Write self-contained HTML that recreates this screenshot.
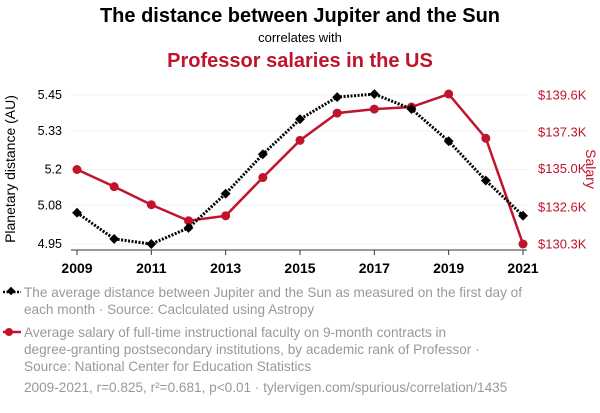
<!DOCTYPE html>
<html><head><meta charset="utf-8"><style>
body{margin:0;background:#fff;width:600px;height:408px;overflow:hidden;font-family:"Liberation Sans",sans-serif}
</style></head><body>
<svg width="600" height="408" font-family="Liberation Sans, sans-serif">
<text x="300" y="22" text-anchor="middle" font-size="20" font-weight="bold" fill="#000">The distance between Jupiter and the Sun</text>
<text x="300" y="42" text-anchor="middle" font-size="13" fill="#000">correlates with</text>
<text x="300" y="67" text-anchor="middle" font-size="20" font-weight="bold" fill="#c0142c">Professor salaries in the US</text>
<g id="grid"></g><g id="axes"></g><g id="series"></g>
<text transform="translate(15,169) rotate(-90)" text-anchor="middle" font-size="14" fill="#000">Planetary distance (AU)</text>
<text transform="translate(586,169) rotate(90)" text-anchor="middle" font-size="14" fill="#c0142c">Salary</text>
<g>
<line x1="3" y1="292" x2="21" y2="292" stroke="#000" stroke-width="2.5" stroke-dasharray="2,1.5"/>
<rect x="8" y="288" width="6" height="6" transform="rotate(45 11 291)" fill="#000"/>
<text x="24" y="297" font-size="13.6" fill="#999">The average distance between Jupiter and the Sun as measured on the first day of</text>
<text x="24" y="314" font-size="13.6" fill="#999">each month · Source: Caclculated using Astropy</text></g>
<g>
<line x1="3" y1="332" x2="21" y2="332" stroke="#c0142c" stroke-width="2.5"/>
<circle cx="9" cy="332" r="4" fill="#c0142c"/>
<text x="24" y="337" font-size="13.6" fill="#999">Average salary of full-time instructional faculty on 9-month contracts in</text>
<text x="24" y="354" font-size="13.6" fill="#999">degree-granting postsecondary institutions, by academic rank of Professor ·</text>
<text x="24" y="371" font-size="13.6" fill="#999">Source: National Center for Education Statistics</text></g>
<text x="24" y="392" font-size="13.6" fill="#999">2009-2021, r=0.825, r²=0.681, p&lt;0.01 · tylervigen.com/spurious/correlation/1435</text>
</svg>
<script>
const years=[2009,2010,2011,2012,2013,2014,2015,2016,2017,2018,2019,2020,2021];
const distance=[5.055,4.967,4.95,5.004,5.119,5.251,5.369,5.443,5.453,5.403,5.295,5.163,5.045];
const salary=[134.95,133.88,132.75,131.75,132.06,134.45,136.77,138.47,138.72,138.85,139.66,136.9,130.3];
const leftTicks=[4.95,5.08,5.2,5.33,5.45];
const leftLabels=["4.95","5.08","5.2","5.33","5.45"];
const rightTicks=[130.3,132.6,135.0,137.3,139.6];
const rightLabels=["$130.3K","$132.6K","$135.0K","$137.3K","$139.6K"];
const xTicks=[2009,2011,2013,2015,2017,2019,2021];
const NS="http://www.w3.org/2000/svg";
const X=v=>77+(v-2009)*(523-77)/12;
const YL=v=>244-(v-4.95)*(244-95)/0.5;
const YR=v=>244-(v-130.3)*(244-95)/9.3;
function mk(t,a,p){const e=document.createElementNS(NS,t);for(const k in a)e.setAttribute(k,a[k]);p.appendChild(e);return e;}
const grid=document.getElementById('grid'),axes=document.getElementById('axes'),ser=document.getElementById('series');
leftTicks.forEach((v,i)=>{
 const g=mk('line',{x1:70,x2:528,y1:YL(v),y2:YL(v),stroke:'#f0f0f0'},grid);
 
 
 const t=mk('text',{x:62,y:YL(v)+4,'text-anchor':'end','font-size':12.5,fill:'#000'},axes);t.textContent=leftLabels[i];
 
 
});
rightTicks.forEach((v,i)=>{
 const t=mk('text',{x:538,y:YR(v)+4.5,'font-size':13,fill:'#c0142c'},axes);t.textContent=rightLabels[i];
 
 
});
const ax=mk('line',{x1:71,x2:527,y1:250,y2:250,stroke:'#333'},axes);


xTicks.forEach(v=>{
 mk('line',{x1:X(v),x2:X(v),y1:250,y2:255,stroke:'#333'},axes);
 const t=mk('text',{x:X(v),y:273,'text-anchor':'middle','font-size':14,'font-weight':'bold',fill:'#000'},axes);t.textContent=v;
 
 
});
const rp=mk('polyline',{points:years.map((y,i)=>X(y)+','+YR(salary[i])).join(' '),fill:'none',stroke:'#c0142c','stroke-width':2.5},ser);


years.forEach((y,i)=>{const c=mk('circle',{cx:X(y),cy:YR(salary[i]),r:4.5,fill:'#c0142c'},ser);
 
 });
const bp=mk('polyline',{points:years.map((y,i)=>X(y)+','+YL(distance[i])).join(' '),fill:'none',stroke:'#000','stroke-width':3,'stroke-dasharray':'2,1.5'},ser);


years.forEach((y,i)=>{const x=X(y),yy=YL(distance[i]);const r=mk('rect',{x:x-3.5,y:yy-3.5,width:7,height:7,transform:`rotate(45 ${x} ${yy})`,fill:'#000'},ser);
 
 });
</script>
</body></html>
